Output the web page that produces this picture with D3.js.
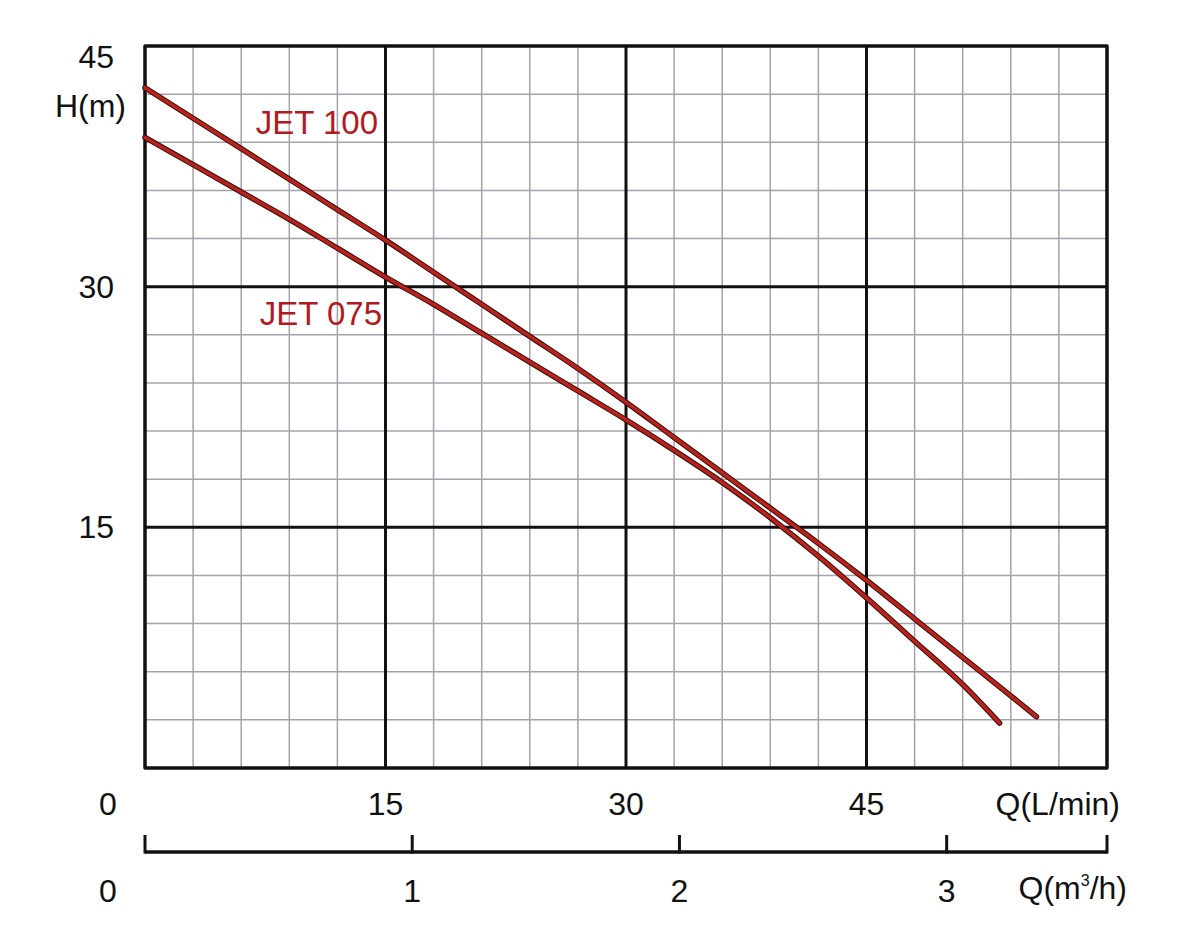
<!DOCTYPE html>
<html>
<head>
<meta charset="utf-8">
<script src="https://cdn.jsdelivr.net/npm/d3@7"></script>
<style>
  body { margin: 0; background: #fff; }
  text { font-family: "Liberation Sans", Arial, sans-serif; }
</style>
</head>
<body>
<div id="chart"></div>
<script>
const width = 1178;
const height = 950;

// data
const qJet100 = [0, 3, 6, 9, 12, 15, 18, 21, 24, 27, 30, 33, 36, 39, 42, 45, 48, 51, 54, 55.6];
const hJet100 = [42.4, 40.5, 38.6, 36.7, 34.8, 32.9, 30.9, 28.9, 26.9, 24.9, 22.8, 20.6, 18.4, 16.2, 14.0, 11.7, 9.3, 6.9, 4.5, 3.2];
const qJet075 = [0, 3, 6, 9, 12, 15, 18, 21, 24, 27, 30, 33, 36, 39, 42, 45, 48, 51, 53.3];
const hJet075 = [39.3, 37.6, 35.9, 34.2, 32.4, 30.6, 28.9, 27.1, 25.3, 23.5, 21.7, 19.8, 17.8, 15.6, 13.2, 10.6, 7.9, 5.2, 2.8];

const headTicks = [15, 30, 45];
const flowTicks = [15, 30, 45];
const m3Ticks = [0, 1, 2, 3];

const plot = { left: 145, right: 1107, top: 46, bottom: 768 };

const svg = d3.select("#chart")
    .append("svg")
    .attr("width", width)
    .attr("height", height);

const x = d3.scaleLinear().domain([0, 60]).range([plot.left, plot.right]);
const y = d3.scaleLinear().domain([0, 45]).range([plot.bottom, plot.top]);
// 1 m3/h = 1000/60 L/min
const xm3 = d3.scaleLinear().domain([0, 3.6]).range([plot.left, plot.right]);

const fontSize = 32;

// minor grid
const g = svg.append("g");
g.selectAll(".vminor")
    .data(d3.range(3, 60, 3).filter(v => v % 15 !== 0))
    .enter().append("line")
    .attr("x1", d => x(d)).attr("x2", d => x(d))
    .attr("y1", plot.top).attr("y2", plot.bottom)
    .attr("stroke", "#a3a3ad").attr("stroke-width", 1.5);
g.selectAll(".hminor")
    .data(d3.range(3, 45, 3).filter(v => v % 15 !== 0))
    .enter().append("line")
    .attr("x1", plot.left).attr("x2", plot.right)
    .attr("y1", d => y(d)).attr("y2", d => y(d))
    .attr("stroke", "#a3a3ad").attr("stroke-width", 1.5);

// major grid
g.selectAll(".vmajor")
    .data(flowTicks)
    .enter().append("line")
    .attr("x1", d => x(d)).attr("x2", d => x(d))
    .attr("y1", plot.top).attr("y2", plot.bottom)
    .attr("stroke", "#111").attr("stroke-width", 3);
g.selectAll(".hmajor")
    .data(headTicks.filter(v => v < 45))
    .enter().append("line")
    .attr("x1", plot.left).attr("x2", plot.right)
    .attr("y1", d => y(d)).attr("y2", d => y(d))
    .attr("stroke", "#111").attr("stroke-width", 3);

// frame
g.append("rect")
    .attr("x", plot.left).attr("y", plot.top)
    .attr("width", plot.right - plot.left)
    .attr("height", plot.bottom - plot.top)
    .attr("fill", "none")
    .attr("stroke", "#111").attr("stroke-width", 3.5)
    .attr("stroke-linejoin", "round");

// curves
const line = d3.line()
    .x(d => x(d[0]))
    .y(d => y(d[1]))
    .curve(d3.curveMonotoneX);

const curves = [
    d3.zip(qJet100, hJet100),
    d3.zip(qJet075, hJet075)
];

curves.forEach(pts => {
    svg.append("path")
        .attr("d", line(pts))
        .attr("fill", "none")
        .attr("stroke", "#3a0b0b")
        .attr("stroke-width", 5.5)
        .attr("stroke-linecap", "round");
    svg.append("path")
        .attr("d", line(pts))
        .attr("fill", "none")
        .attr("stroke", "#b8241c")
        .attr("stroke-width", 3.5)
        .attr("stroke-linecap", "round");
});

// curve labels
svg.append("text")
    .attr("x", 378).attr("y", 134)
    .attr("text-anchor", "end")
    .attr("font-size", 33)
    .attr("fill", "#b01a20")
    .text("JET 100");
svg.append("text")
    .attr("x", 382).attr("y", 325)
    .attr("text-anchor", "end")
    .attr("font-size", 33)
    .attr("fill", "#b01a20")
    .text("JET 075");

// y labels
svg.selectAll(".ylab")
    .data(headTicks)
    .enter().append("text")
    .attr("x", 114)
    .attr("y", d => Math.max(y(d), plot.top + 11) + 11)
    .attr("text-anchor", "end")
    .attr("font-size", fontSize)
    .attr("fill", "#111")
    .text(d => d);
svg.append("text")
    .attr("x", 126).attr("y", 117)
    .attr("text-anchor", "end")
    .attr("font-size", fontSize)
    .attr("fill", "#111")
    .text("H(m)");

// x labels, L/min
const row1 = 815;
svg.append("text")
    .attr("x", x(0) - 37).attr("y", row1)
    .attr("text-anchor", "middle")
    .attr("font-size", fontSize).attr("fill", "#111")
    .text("0");
svg.selectAll(".xlab")
    .data(flowTicks)
    .enter().append("text")
    .attr("x", d => x(d))
    .attr("y", row1)
    .attr("text-anchor", "middle")
    .attr("font-size", fontSize)
    .attr("fill", "#111")
    .text(d => d);
svg.append("text")
    .attr("x", 1120).attr("y", row1)
    .attr("text-anchor", "end")
    .attr("font-size", fontSize).attr("fill", "#111")
    .text("Q(L/min)");

// m3/h scale bar
const barY = 852;
const bar = svg.append("g");
bar.append("line")
    .attr("x1", plot.left).attr("x2", plot.right)
    .attr("y1", barY).attr("y2", barY)
    .attr("stroke", "#111").attr("stroke-width", 3.5);
bar.selectAll(".tick")
    .data(m3Ticks.concat([3.6]))
    .enter().append("line")
    .attr("x1", d => xm3(d)).attr("x2", d => xm3(d))
    .attr("y1", barY + 1.5).attr("y2", barY - 17)
    .attr("stroke", "#111").attr("stroke-width", 3);

const row2 = 902;
svg.selectAll(".m3lab")
    .data(m3Ticks)
    .enter().append("text")
    .attr("x", d => d === 0 ? xm3(0) - 37 : xm3(d))
    .attr("y", row2)
    .attr("text-anchor", "middle")
    .attr("font-size", fontSize)
    .attr("fill", "#111")
    .text(d => d);

const q3 = svg.append("text")
    .attr("x", 1127).attr("y", row2 - 3)
    .attr("text-anchor", "end")
    .attr("font-size", fontSize).attr("fill", "#111");
q3.append("tspan").text("Q(m");
q3.append("tspan").attr("font-size", 16).attr("dy", -13).text("3");
q3.append("tspan").attr("dy", 13).text("/h)");
</script>
</body>
</html>
